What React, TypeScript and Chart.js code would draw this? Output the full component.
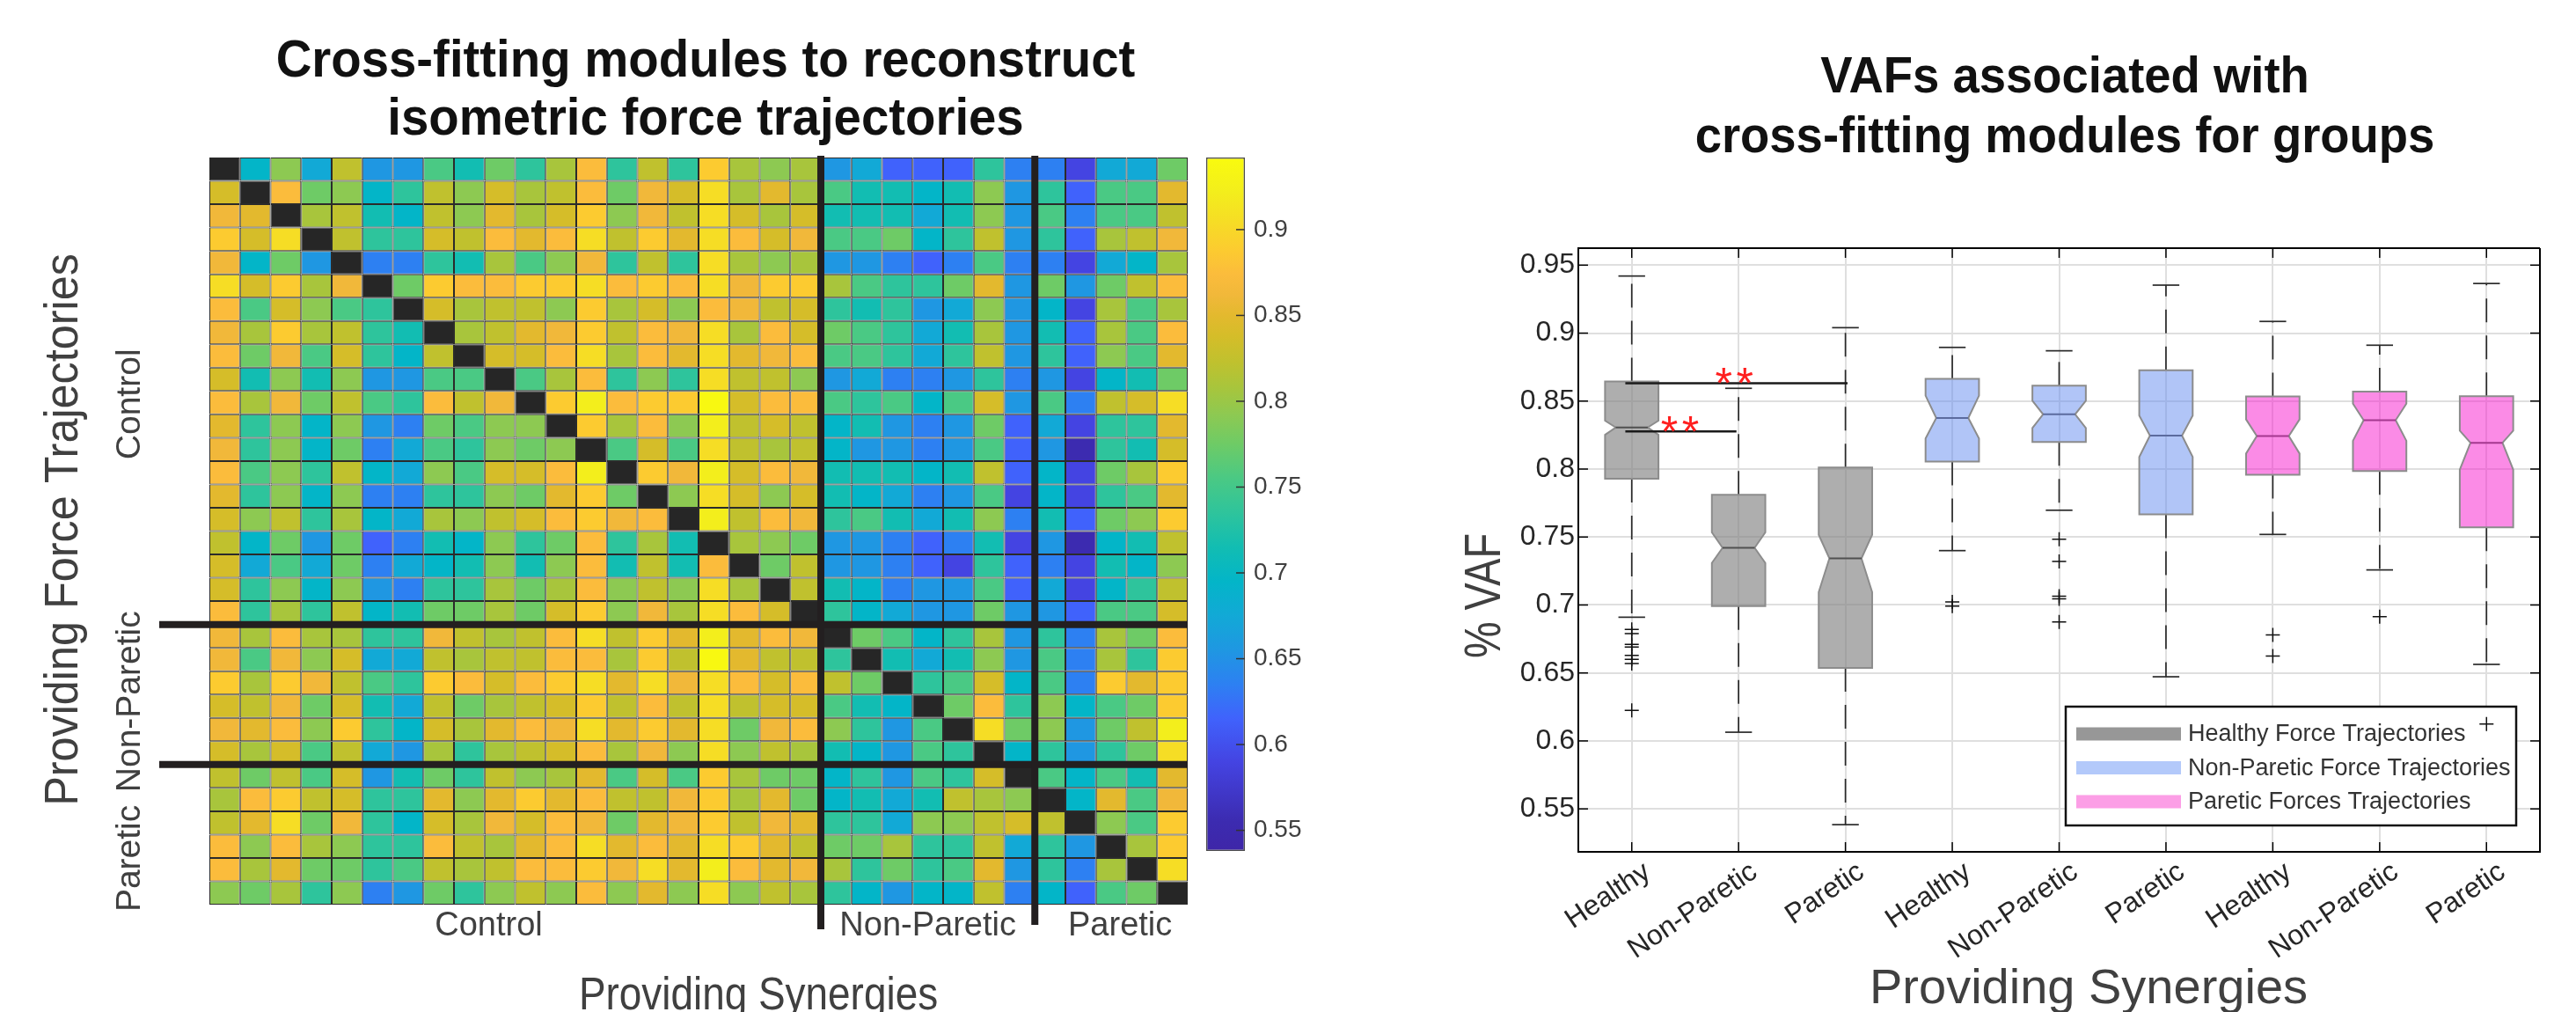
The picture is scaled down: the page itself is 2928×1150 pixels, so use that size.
import React, { useEffect, useRef } from 'react';
import { Chart, registerables } from 'chart.js';

Chart.register(...registerables);

const FONT = "'Liberation Sans', Arial, Helvetica, sans-serif";
const LABEL_COLOR = '#404040';
const DIAGONAL_COLOR = '#262626';

// ---------------- Heatmap data (rows: providing force trajectories, cols: providing synergies) ----------------
const groupNames = ['Control', 'Non-Paretic', 'Paretic'];
const rowGroupSizes = [20, 6, 6];
const colGroupSizes = [20, 7, 5];

const controlRows: (number | null)[][] = [
  [null,.695,.792,.675,.823,.655,.655,.755,.715,.775,.735,.808,.874,.735,.823,.735,.888,.808,.792,.808,.655,.675,.615,.615,.615,.735,.635,.635,.59,.675,.675,.775],
  [.838,null,.874,.775,.792,.695,.735,.823,.792,.838,.808,.823,.874,.775,.862,.838,.905,.808,.85,.808,.755,.715,.715,.695,.715,.792,.655,.735,.615,.755,.755,.85],
  [.862,.85,null,.808,.823,.715,.695,.823,.792,.85,.808,.838,.888,.792,.862,.823,.905,.838,.808,.838,.715,.715,.715,.675,.715,.792,.655,.755,.635,.755,.755,.823],
  [.888,.838,.905,null,.823,.735,.735,.838,.823,.874,.85,.874,.905,.823,.888,.85,.905,.874,.838,.862,.755,.755,.775,.695,.735,.823,.655,.735,.615,.808,.823,.862],
  [.862,.695,.775,.655,null,.635,.635,.735,.715,.808,.755,.792,.862,.735,.823,.735,.905,.808,.792,.808,.655,.655,.635,.615,.635,.755,.635,.635,.59,.675,.695,.808],
  [.905,.838,.888,.808,.862,null,.775,.888,.874,.874,.888,.888,.905,.874,.888,.874,.905,.862,.888,.888,.808,.755,.735,.735,.775,.85,.655,.775,.655,.775,.823,.874],
  [.874,.755,.838,.792,.755,.735,null,.838,.808,.823,.823,.792,.888,.808,.838,.792,.874,.862,.823,.838,.735,.715,.735,.655,.675,.792,.655,.695,.59,.808,.755,.808],
  [.862,.808,.888,.808,.823,.735,.715,null,.808,.823,.85,.862,.888,.823,.874,.862,.905,.808,.874,.838,.775,.755,.735,.675,.715,.808,.655,.715,.615,.808,.755,.874],
  [.874,.775,.862,.755,.838,.735,.695,.823,null,.838,.838,.874,.905,.808,.874,.85,.905,.85,.862,.874,.755,.755,.735,.675,.735,.823,.655,.735,.615,.792,.755,.85],
  [.838,.715,.792,.715,.792,.655,.655,.755,.755,null,.755,.808,.874,.735,.792,.735,.905,.823,.823,.792,.655,.675,.635,.635,.655,.735,.635,.655,.59,.695,.715,.775],
  [.874,.808,.862,.775,.823,.755,.735,.874,.823,.862,null,.888,.922,.874,.888,.888,.938,.838,.874,.874,.755,.735,.755,.695,.755,.838,.655,.755,.635,.823,.838,.905],
  [.85,.735,.792,.695,.792,.655,.635,.775,.755,.792,.792,null,.888,.808,.874,.792,.922,.823,.838,.823,.695,.715,.655,.635,.655,.775,.615,.675,.59,.735,.735,.85],
  [.862,.735,.792,.695,.775,.635,.675,.755,.735,.792,.775,.792,null,.755,.838,.755,.905,.823,.808,.823,.695,.655,.655,.635,.655,.755,.615,.655,.555,.735,.715,.838],
  [.874,.755,.792,.735,.823,.695,.675,.792,.755,.838,.838,.874,.922,null,.888,.862,.922,.838,.874,.862,.715,.715,.715,.695,.715,.823,.615,.695,.59,.775,.808,.888],
  [.85,.735,.792,.695,.792,.635,.635,.735,.735,.792,.775,.85,.888,.775,null,.792,.905,.838,.792,.838,.715,.695,.675,.635,.655,.755,.59,.695,.59,.735,.755,.85],
  [.838,.792,.823,.735,.808,.695,.675,.808,.792,.823,.838,.874,.888,.862,.874,null,.922,.823,.874,.862,.735,.755,.715,.675,.715,.792,.635,.715,.615,.775,.792,.888],
  [.823,.695,.775,.655,.775,.615,.635,.715,.695,.792,.735,.775,.874,.735,.808,.715,null,.808,.792,.775,.655,.655,.635,.615,.635,.715,.59,.655,.555,.695,.715,.823],
  [.838,.675,.755,.675,.775,.635,.675,.695,.715,.792,.715,.792,.874,.715,.823,.715,.874,null,.775,.823,.655,.655,.635,.615,.59,.735,.615,.635,.59,.715,.695,.792],
  [.838,.735,.792,.695,.792,.655,.635,.735,.735,.808,.775,.808,.874,.792,.823,.792,.905,.808,null,.823,.715,.695,.635,.655,.655,.755,.615,.675,.59,.695,.735,.823],
  [.874,.735,.808,.735,.823,.695,.715,.775,.775,.808,.775,.838,.888,.792,.862,.808,.905,.874,.838,null,.735,.695,.675,.655,.655,.775,.655,.655,.615,.755,.755,.838],
];

const nonPareticRows: (number | null)[][] = [
  [.862,.808,.874,.808,.808,.735,.735,.862,.823,.808,.823,.874,.905,.823,.888,.85,.922,.85,.874,.862,null,.775,.755,.695,.735,.808,.655,.735,.635,.808,.775,.874],
  [.862,.755,.862,.792,.838,.675,.675,.823,.808,.823,.823,.874,.874,.808,.888,.823,.938,.85,.823,.823,.735,null,.715,.675,.715,.792,.655,.755,.635,.808,.735,.888],
  [.888,.808,.888,.862,.823,.755,.735,.888,.874,.838,.874,.888,.905,.85,.905,.862,.905,.874,.838,.874,.823,.775,null,.735,.755,.838,.695,.755,.635,.888,.85,.888],
  [.838,.823,.862,.775,.838,.715,.675,.823,.775,.808,.823,.838,.888,.823,.874,.823,.905,.823,.838,.838,.755,.715,.695,null,.775,.874,.735,.792,.695,.755,.775,.888],
  [.862,.85,.874,.792,.888,.735,.695,.838,.808,.85,.874,.862,.905,.85,.888,.85,.905,.775,.862,.874,.792,.735,.655,.755,null,.905,.775,.792,.655,.775,.823,.922],
  [.838,.808,.838,.755,.823,.675,.655,.808,.735,.808,.823,.838,.874,.808,.862,.792,.905,.792,.823,.808,.715,.695,.655,.755,.735,null,.695,.735,.655,.735,.775,.905],
];

const pareticRows: (number | null)[][] = [
  [.823,.775,.823,.755,.838,.655,.715,.775,.735,.823,.792,.808,.85,.755,.838,.755,.888,.808,.775,.775,.695,.735,.655,.755,.735,.838,null,.755,.695,.755,.715,.85],
  [.808,.874,.888,.823,.838,.735,.735,.85,.792,.85,.888,.85,.874,.823,.823,.862,.888,.808,.85,.775,.695,.715,.675,.715,.823,.808,.792,null,.695,.85,.755,.862],
  [.823,.85,.905,.775,.862,.735,.695,.838,.808,.862,.838,.874,.862,.775,.85,.862,.888,.823,.862,.85,.735,.735,.675,.792,.792,.823,.838,.823,null,.792,.755,.888],
  [.874,.792,.874,.808,.792,.735,.735,.874,.823,.808,.85,.874,.905,.85,.874,.85,.905,.888,.85,.823,.775,.775,.808,.735,.735,.823,.675,.735,.655,null,.808,.888],
  [.874,.808,.85,.775,.775,.735,.755,.823,.808,.823,.874,.874,.888,.862,.905,.85,.922,.874,.85,.862,.808,.735,.775,.735,.755,.85,.655,.735,.635,.808,null,.905],
  [.792,.775,.808,.735,.792,.635,.655,.775,.735,.792,.823,.792,.874,.792,.85,.792,.905,.792,.823,.808,.735,.695,.655,.695,.695,.823,.635,.695,.615,.755,.775,null],
];

const colorbarTicks = [0.55, 0.6, 0.65, 0.7, 0.75, 0.8, 0.85, 0.9];
const colorLimits = [0.538, 0.942];

// ---------------- Box plot data ----------------
const boxLabels = ['Healthy', 'Non-Paretic', 'Paretic', 'Healthy', 'Non-Paretic', 'Paretic', 'Healthy', 'Non-Paretic', 'Paretic'];
const boxGroup = [0, 0, 0, 1, 1, 1, 2, 2, 2];
const whiskerHigh = [0.942, 0.8594, 0.904, 0.8895, 0.887, 0.9353, 0.9086, 0.8911, 0.9365];
const quart3 = [0.8644, 0.781, 0.8011, 0.8663, 0.8613, 0.8726, 0.8534, 0.8569, 0.8535];
const notchHigh = [0.8356, 0.7534, 0.7516, 0.854, 0.8503, 0.8393, 0.8365, 0.8481, 0.8282];
const medians = [0.8306, 0.7421, 0.7343, 0.8375, 0.8403, 0.8246, 0.8243, 0.8359, 0.8193];
const notchLow = [0.8252, 0.7309, 0.7095, 0.8225, 0.8302, 0.8089, 0.8114, 0.8208, 0.7996];
const quart1 = [0.7929, 0.6992, 0.6537, 0.8055, 0.8199, 0.7666, 0.7958, 0.7986, 0.7572];
const whiskerLow = [0.691, 0.6064, 0.5384, 0.74, 0.7697, 0.6472, 0.7519, 0.7258, 0.6563];
const outliers = [
  [0.682, 0.679, 0.671, 0.669, 0.663, 0.66, 0.657, 0.6225],
  [],
  [],
  [0.7023, 0.6992],
  [0.7484, 0.7321, 0.7064, 0.7045, 0.6876],
  [],
  [0.6779, 0.6625],
  [0.6914],
  [0.6124],
];
const vafTicks = [0.55, 0.6, 0.65, 0.7, 0.75, 0.8, 0.85, 0.9, 0.95];
const vafLimits = [0.5184, 0.9625];
const legendLabels = ['Healthy Force Trajectories', 'Non-Paretic Force Trajectories', 'Paretic Forces Trajectories'];
const sigStart = [0.94, 0.94];
const sigEnd = [3.02, 1.98];
const sigLevel = [0.8632, 0.8277];
const sigStarX = [1.96, 1.45];
const sigText = ['**', '**'];

// ---------------- Styles ----------------
const cmapValues = [0.538, 0.555, 0.59, 0.615, 0.635, 0.655, 0.675, 0.695, 0.715, 0.735, 0.755, 0.775, 0.792, 0.808, 0.823, 0.838, 0.85, 0.862, 0.874, 0.888, 0.905, 0.922, 0.942];
const cmapColors = ['#3E26A8', '#3C2BB0', '#4444E2', '#4062FC', '#2D80F2', '#1F97E2', '#12A9D6', '#03B5C8', '#12BDB2', '#2EC49C', '#4AC984', '#6ECB66', '#8DC952', '#A8C53C', '#C0C12E', '#D5BD29', '#E3B92E', '#F1B83A', '#FBBC3C', '#FCCB30', '#F6DD25', '#F3EE1C', '#F9FB0E'];
const groupFill = ['rgba(128,128,128,0.64)', 'rgba(100,140,240,0.5)', 'rgba(247,23,205,0.5)'];
const groupMedian = ['#505050', '#5b6b9e', '#a4388f'];
const legendColors = ['#979797', '#b3c9fa', '#fc9ee6'];
const rowLabelShift = [15, 8, 27];
const colLabelShift = [-30, 0, 10];
const dividerDrop = [28, 23];

function hexToRgb(h: string) {
  const n = parseInt(h.slice(1), 16);
  return [(n >> 16) & 255, (n >> 8) & 255, n & 255];
}
const cmapRgb = cmapColors.map(hexToRgb);
function colorFor(v: number) {
  if (v <= cmapValues[0]) return cmapColors[0];
  for (let i = 1; i < cmapValues.length; i++) {
    if (v <= cmapValues[i]) {
      const t = (v - cmapValues[i - 1]) / (cmapValues[i] - cmapValues[i - 1]);
      const a = cmapRgb[i - 1];
      const b = cmapRgb[i];
      return `rgb(${Math.round(a[0] + (b[0] - a[0]) * t)},${Math.round(a[1] + (b[1] - a[1]) * t)},${Math.round(a[2] + (b[2] - a[2]) * t)})`;
    }
  }
  return cmapColors[cmapColors.length - 1];
}

type TextOpt = { size: number; weight?: string; color?: string; rotate?: number; sx?: number; align?: CanvasTextAlign; baseline?: CanvasTextBaseline };
function drawText(ctx: CanvasRenderingContext2D, text: string, x: number, y: number, o: TextOpt) {
  ctx.save();
  ctx.translate(x, y);
  if (o.rotate) ctx.rotate(o.rotate);
  ctx.scale(o.sx ?? 1, 1);
  ctx.font = `${o.weight ?? 'normal'} ${o.size}px ${FONT}`;
  ctx.fillStyle = o.color ?? LABEL_COLOR;
  ctx.textAlign = o.align ?? 'center';
  ctx.textBaseline = o.baseline ?? 'alphabetic';
  ctx.fillText(text, 0, 0);
  ctx.restore();
}
function strokeLine(ctx: CanvasRenderingContext2D, x1: number, y1: number, x2: number, y2: number) {
  ctx.beginPath();
  ctx.moveTo(x1, y1);
  ctx.lineTo(x2, y2);
  ctx.stroke();
}

// ---------------- Heatmap ----------------
const heatmapDecor = {
  id: 'heatmapDecor',
  afterDraw(chart: any) {
    const { ctx, chartArea: a } = chart;
    const xs = chart.scales.x;
    const ys = chart.scales.y;
    const nCols = chart.data.labels.length;
    const colEdge = (k: number) =>
      k <= 0 ? a.left : k >= nCols ? a.right : (xs.getPixelForValue(k - 1) + xs.getPixelForValue(k)) / 2;
    ctx.save();
    ctx.strokeStyle = '#231f20';
    ctx.lineWidth = 8;
    let acc = 0;
    rowGroupSizes.forEach((n, i) => {
      const y0 = ys.getPixelForValue(acc);
      acc += n;
      const y1 = ys.getPixelForValue(acc);
      if (i < rowGroupSizes.length - 1) strokeLine(ctx, a.left - 57, y1, a.right, y1);
      drawText(ctx, groupNames[i], 159, (y0 + y1) / 2 + rowLabelShift[i], { size: 39, rotate: -Math.PI / 2 });
    });
    acc = 0;
    colGroupSizes.forEach((n, i) => {
      const x0 = colEdge(acc);
      acc += n;
      const x1 = colEdge(acc);
      if (i < colGroupSizes.length - 1) strokeLine(ctx, x1, a.top - 2, x1, a.bottom + dividerDrop[i]);
      drawText(ctx, groupNames[i], (x0 + x1) / 2 + colLabelShift[i], a.bottom + 35, { size: 38 });
    });
    drawText(ctx, 'Cross-fitting modules to reconstruct', 802, 87, { size: 59, weight: 'bold', color: '#111', sx: 0.955 });
    drawText(ctx, 'isometric force trajectories', 802, 153, { size: 59, weight: 'bold', color: '#111', sx: 0.955 });
    drawText(ctx, 'Providing Force Trajectories', 88, 602, { size: 53, rotate: -Math.PI / 2, sx: 0.95 });
    drawText(ctx, 'Providing Synergies', 862, 1147, { size: 51, sx: 0.9 });
    ctx.restore();
  },
};

function heatmapConfig(): any {
  const rows = [...controlRows, ...nonPareticRows, ...pareticRows];
  return {
    type: 'bar',
    data: {
      labels: rows[0].map((_, i) => `S${i + 1}`),
      datasets: rows.map((row, r) => ({
        label: `F${r + 1}`,
        data: row.map(() => 1),
        backgroundColor: row.map((v) => (v == null ? DIAGONAL_COLOR : colorFor(v))),
        borderColor: '#2b2b2b',
        borderWidth: 1,
        borderSkipped: false,
        inflateAmount: 0,
        barPercentage: 1,
        categoryPercentage: 1,
      })),
    },
    options: {
      responsive: false,
      animation: false,
      devicePixelRatio: 1,
      layout: { padding: { left: 238, right: 10, top: 179, bottom: 122 } },
      plugins: { legend: { display: false }, tooltip: { enabled: false }, title: { display: false } },
      scales: {
        x: { display: false, stacked: true, offset: true },
        y: { display: false, stacked: true, min: 0, max: rows.length, reverse: true },
      },
    },
    plugins: [heatmapDecor],
  };
}

// ---------------- Colorbar ----------------
const colorbarDecor = {
  id: 'colorbarDecor',
  afterDraw(chart: any) {
    const { ctx, chartArea: a } = chart;
    const ys = chart.scales.y;
    ctx.save();
    ctx.strokeStyle = '#333';
    ctx.lineWidth = 1.5;
    colorbarTicks.forEach((v) => {
      const y = ys.getPixelForValue(v);
      strokeLine(ctx, a.right - 10, y, a.right, y);
    });
    ctx.restore();
  },
};

function colorbarConfig(): any {
  return {
    type: 'bar',
    data: {
      labels: ['VAF'],
      datasets: [
        {
          data: [[colorLimits[0], colorLimits[1]]],
          backgroundColor: (c: any) => {
            const chart = c.chart;
            if (!chart.chartArea) return '#888';
            const ys = chart.scales.y;
            const g = chart.ctx.createLinearGradient(0, ys.getPixelForValue(colorLimits[0]), 0, ys.getPixelForValue(colorLimits[1]));
            cmapValues.forEach((v, i) => {
              const t = Math.min(1, Math.max(0, (v - colorLimits[0]) / (colorLimits[1] - colorLimits[0])));
              g.addColorStop(t, cmapColors[i]);
            });
            return g;
          },
          borderColor: '#4d4d4d',
          borderWidth: 1.5,
          borderSkipped: false,
          inflateAmount: 0,
          barPercentage: 1,
          categoryPercentage: 1,
        },
      ],
    },
    options: {
      responsive: false,
      animation: false,
      devicePixelRatio: 1,
      layout: { padding: { left: 16, right: 0, top: 179, bottom: 183 } },
      plugins: { legend: { display: false }, tooltip: { enabled: false } },
      scales: {
        x: { display: false },
        y: {
          position: 'right',
          min: colorLimits[0],
          max: colorLimits[1],
          afterBuildTicks: (s: any) => {
            s.ticks = colorbarTicks.map((v) => ({ value: v }));
          },
          grid: { display: false, drawTicks: false },
          border: { display: false },
          ticks: { padding: 10, color: LABEL_COLOR, font: { size: 28, family: FONT }, callback: (v: any) => String(v) },
          afterFit: (s: any) => {
            s.width = 140;
          },
        },
      },
    },
    plugins: [colorbarDecor],
  };
}

// ---------------- Box plots ----------------
const boxDecor = {
  id: 'boxDecor',
  beforeDatasetsDraw(chart: any) {
    const { ctx } = chart;
    const xs = chart.scales.x;
    const ys = chart.scales.y;
    const px = (v: number) => xs.getPixelForValue(v);
    const py = (v: number) => ys.getPixelForValue(v);
    ctx.save();
    boxLabels.forEach((_, i) => {
      const c = i + 1;
      const g = boxGroup[i];
      ctx.strokeStyle = '#2a2a2a';
      ctx.lineWidth = 1.7;
      ctx.setLineDash([27, 15]);
      strokeLine(ctx, px(c), py(quart3[i]), px(c), py(whiskerHigh[i]));
      strokeLine(ctx, px(c), py(quart1[i]), px(c), py(whiskerLow[i]));
      ctx.setLineDash([]);
      strokeLine(ctx, px(c - 0.125), py(whiskerHigh[i]), px(c + 0.125), py(whiskerHigh[i]));
      strokeLine(ctx, px(c - 0.125), py(whiskerLow[i]), px(c + 0.125), py(whiskerLow[i]));
      const L = px(c - 0.25);
      const R = px(c + 0.25);
      const Li = px(c - 0.15);
      const Ri = px(c + 0.15);
      ctx.beginPath();
      ctx.moveTo(L, py(quart3[i]));
      ctx.lineTo(R, py(quart3[i]));
      ctx.lineTo(R, py(notchHigh[i]));
      ctx.lineTo(Ri, py(medians[i]));
      ctx.lineTo(R, py(notchLow[i]));
      ctx.lineTo(R, py(quart1[i]));
      ctx.lineTo(L, py(quart1[i]));
      ctx.lineTo(L, py(notchLow[i]));
      ctx.lineTo(Li, py(medians[i]));
      ctx.lineTo(L, py(notchHigh[i]));
      ctx.closePath();
      ctx.fillStyle = groupFill[g];
      ctx.fill();
      ctx.strokeStyle = '#8c8c8c';
      ctx.lineWidth = 2;
      ctx.stroke();
      ctx.strokeStyle = groupMedian[g];
      ctx.lineWidth = 2;
      strokeLine(ctx, Li, py(medians[i]), Ri, py(medians[i]));
    });
    // significance bars
    sigLevel.forEach((lv, k) => {
      ctx.strokeStyle = '#1a1a1a';
      ctx.lineWidth = 2.5;
      strokeLine(ctx, px(sigStart[k]), py(lv), px(sigEnd[k]), py(lv));
      const cx = px(sigStarX[k]);
      const cy = py(lv) - 10;
      const chars = sigText[k].split('');
      chars.forEach((ch, j) => {
        const off = (j - (chars.length - 1) / 2) * 24;
        drawText(ctx, ch, cx + off, cy + 28, { size: 50, color: '#ff1f1f' });
      });
    });
    // legend
    const lx = 788;
    const ly = 803;
    ctx.fillStyle = '#fff';
    ctx.fillRect(lx, ly, 512, 135);
    ctx.strokeStyle = '#111';
    ctx.lineWidth = 2.5;
    ctx.strokeRect(lx, ly, 512, 135);
    legendLabels.forEach((t, k) => {
      const y = ly + 31 + k * 38.5;
      ctx.strokeStyle = legendColors[k];
      ctx.lineWidth = 15;
      strokeLine(ctx, lx + 12, y, lx + 131, y);
      drawText(ctx, t, lx + 139, y + 1, { size: 27, color: '#333', align: 'left', baseline: 'middle' });
    });
    ctx.restore();
  },
  afterDraw(chart: any) {
    const { ctx, chartArea: a } = chart;
    const xs = chart.scales.x;
    const ys = chart.scales.y;
    ctx.save();
    ctx.strokeStyle = '#000';
    ctx.lineWidth = 2;
    strokeLine(ctx, a.left, a.top, a.right, a.top);
    strokeLine(ctx, a.right, a.top, a.right, a.bottom);
    ctx.lineWidth = 1.5;
    vafTicks.forEach((v) => {
      const y = ys.getPixelForValue(v);
      strokeLine(ctx, a.left, y, a.left + 11, y);
      strokeLine(ctx, a.right - 11, y, a.right, y);
    });
    boxLabels.forEach((_, i) => {
      const x = xs.getPixelForValue(i + 1);
      strokeLine(ctx, x, a.bottom, x, a.bottom - 11);
      strokeLine(ctx, x, a.top, x, a.top + 11);
    });
    drawText(ctx, 'VAFs associated with', 787, 105, { size: 57, weight: 'bold', color: '#111', sx: 0.955 });
    drawText(ctx, 'cross-fitting modules for groups', 787, 173, { size: 57, weight: 'bold', color: '#111', sx: 0.955 });
    drawText(ctx, '% VAF', 145, 677, { size: 57, rotate: -Math.PI / 2, sx: 0.82 });
    drawText(ctx, 'Providing Synergies', 814, 1140, { size: 56 });
    ctx.restore();
  },
};

function boxplotConfig(): any {
  const points = outliers.flatMap((arr, i) => arr.map((v) => ({ x: i + 1, y: v })));
  const grid = { color: '#dfdfdf', lineWidth: 2, drawTicks: false };
  return {
    type: 'scatter',
    data: {
      datasets: [
        {
          label: 'Outliers',
          data: points,
          pointStyle: 'cross',
          pointRadius: 8,
          borderColor: '#111',
          backgroundColor: '#111',
          borderWidth: 1.5,
        },
      ],
    },
    options: {
      responsive: false,
      animation: false,
      devicePixelRatio: 1,
      layout: { padding: { left: 0, right: 41, top: 282, bottom: 0 } },
      plugins: { legend: { display: false }, tooltip: { enabled: false } },
      scales: {
        x: {
          type: 'linear',
          min: 0.5,
          max: boxLabels.length + 0.5,
          afterBuildTicks: (s: any) => {
            s.ticks = boxLabels.map((_, i) => ({ value: i + 1 }));
          },
          ticks: {
            autoSkip: false,
            maxRotation: 34,
            minRotation: 34,
            padding: 4,
            labelOffset: 18,
            color: '#262626',
            font: { size: 32, family: FONT },
            callback: (v: any) => boxLabels[Math.round(v) - 1] ?? '',
          },
          grid,
          border: { display: true, color: '#000', width: 2 },
          afterFit: (s: any) => {
            s.height = 182;
          },
        },
        y: {
          type: 'linear',
          min: vafLimits[0],
          max: vafLimits[1],
          afterBuildTicks: (s: any) => {
            s.ticks = vafTicks.map((v) => ({ value: v }));
          },
          ticks: { padding: 4, color: '#262626', font: { size: 32, family: FONT }, callback: (v: any) => String(v) },
          grid,
          border: { display: true, color: '#000', width: 2 },
          afterFit: (s: any) => {
            s.width = 234;
          },
        },
      },
    },
    plugins: [boxDecor],
  };
}

export default function App() {
  const heatRef = useRef<HTMLCanvasElement>(null);
  const barRef = useRef<HTMLCanvasElement>(null);
  const boxRef = useRef<HTMLCanvasElement>(null);

  useEffect(() => {
    const charts = [
      new Chart(heatRef.current as HTMLCanvasElement, heatmapConfig()),
      new Chart(barRef.current as HTMLCanvasElement, colorbarConfig()),
      new Chart(boxRef.current as HTMLCanvasElement, boxplotConfig()),
    ];
    return () => charts.forEach((c) => c.destroy());
  }, []);

  const abs = (left: number, width: number): React.CSSProperties => ({
    position: 'absolute',
    left,
    top: 0,
    width,
    height: 1150,
  });

  return (
    <div style={{ position: 'absolute', left: 0, top: 0, width: 2928, height: 1150, background: '#fff', overflow: 'hidden' }}>
      <canvas ref={heatRef} width={1360} height={1150} style={abs(0, 1360)} />
      <canvas ref={barRef} width={200} height={1150} style={abs(1355, 200)} />
      <canvas ref={boxRef} width={1368} height={1150} style={abs(1560, 1368)} />
    </div>
  );
}
